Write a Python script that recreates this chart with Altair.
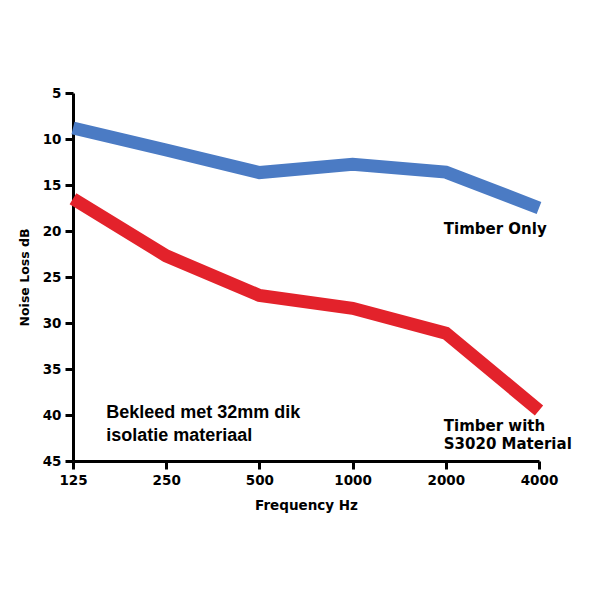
import altair as alt
import pandas as pd

freq = [125, 250, 500, 1000, 2000, 4000]
timber_only = [8.8, 11.2, 13.65, 12.75, 13.6, 17.5]
timber_s3020 = [16.5, 22.7, 27.0, 28.4, 31.1, 39.5]
series_names = ["Timber Only", "Timber with S3020 Material"]
y_ticks = [5, 10, 15, 20, 25, 30, 35, 40, 45]

df = pd.DataFrame({
    "freq": freq * 2,
    "loss": timber_only + timber_s3020,
    "series": [series_names[0]] * 6 + [series_names[1]] * 6,
})

x_scale = alt.Scale(type="log", base=2, domain=[125, 4000], nice=False)
y_scale = alt.Scale(domain=[5, 45], reverse=True, nice=False, zero=False)

BOLD = "DejaVu Sans"

axis_common = dict(
    domainColor="black", domainWidth=3, tickColor="black", tickWidth=3, tickSize=8,
    labelFont=BOLD, labelFontWeight="bold", labelColor="black",
    titleFont=BOLD, titleFontWeight="bold", titleColor="black",
    grid=False, labelFlush=False,
)

lines = alt.Chart(df).mark_line(strokeWidth=13, strokeCap="butt", strokeJoin="miter").encode(
    x=alt.X("freq:Q", scale=x_scale, title="Frequency Hz",
            axis=alt.Axis(values=freq, format="d", labelFontSize=13.5, labelPadding=4,
                          titleFontSize=13.5, titlePadding=12, **axis_common)),
    y=alt.Y("loss:Q", scale=y_scale, title="Noise Loss dB",
            axis=alt.Axis(values=y_ticks, labelFontSize=13.5, labelPadding=4,
                          titleFontSize=12.5, titlePadding=11, **axis_common)),
    color=alt.Color("series:N", scale=alt.Scale(domain=series_names, range=["#4b7bc4", "#e3222b"]), legend=None),
)

label_freq = [2000, 2000]
label_loss = [19.8, 41.2]
label_text = [["Timber Only"], ["Timber with", "S3020 Material"]]
note_freq = [160]
note_loss = [39.8]
note_text = [["Bekleed met 32mm dik", "isolatie materiaal"]]

series_labels = alt.Chart(pd.DataFrame({"freq": label_freq, "loss": label_loss, "text": label_text})).mark_text(
    align="left", baseline="middle", dx=-2, fontSize=15, fontWeight="bold",
    font=BOLD, color="black", lineHeight=17.5,
).encode(x=alt.X("freq:Q", scale=x_scale), y=alt.Y("loss:Q", scale=y_scale), text="text")

note = alt.Chart(pd.DataFrame({"freq": note_freq, "loss": note_loss, "text": note_text})).mark_text(
    align="left", baseline="middle", fontSize=18, fontWeight="bold",
    font="Liberation Sans", color="black", lineHeight=23,
).encode(x=alt.X("freq:Q", scale=x_scale), y=alt.Y("loss:Q", scale=y_scale), text="text")

chart = alt.layer(lines, series_labels, note).properties(
    width=466, height=368,
    background="white",
    autosize=alt.AutoSizeParams(type="none"),
    padding={"left": 73, "top": 93, "right": 66, "bottom": 144},
).configure_view(strokeWidth=0, stroke=None)

chart.save("out.html", embed_options={"renderer": "svg", "actions": False})
